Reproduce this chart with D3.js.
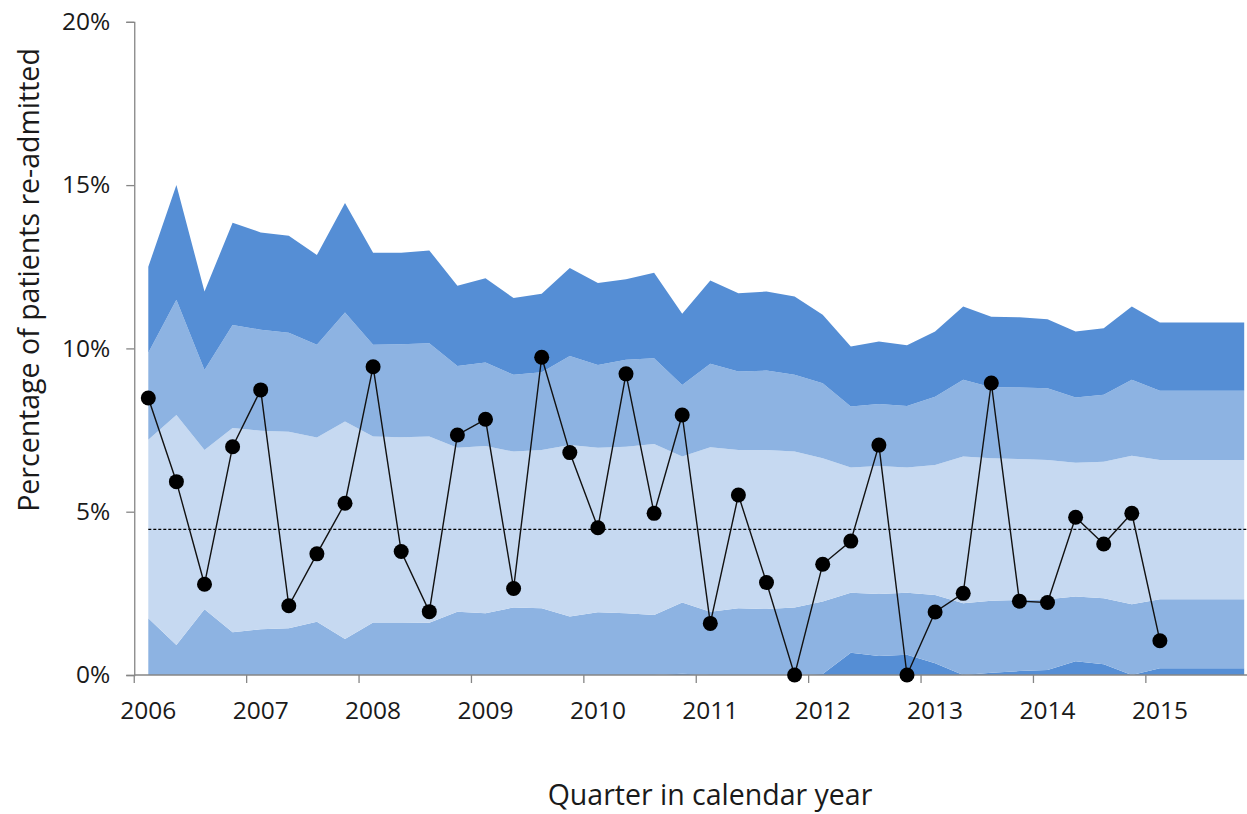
<!DOCTYPE html>
<html>
<head>
<meta charset="utf-8">
<script src="https://cdn.jsdelivr.net/npm/d3@7"></script>
<style>
  html, body { margin: 0; padding: 0; background: #fff; }
  svg { display: block; font-family: "Open Sans", sans-serif; }
</style>
</head>
<body>
<svg id="chart" width="1247" height="814"></svg>
<script>
// ---- data (percent) ----
const years = [2006,2007,2008,2009,2010,2011,2012,2013,2014,2015];
const categories = [];
years.forEach(y => [1,2,3,4].forEach(q => categories.push(y + " Q" + q)));
const yearLabels = years.map(String);

const readmitted = [8.48,5.92,2.78,6.99,8.73,2.12,3.71,5.26,9.44,3.78,1.94,7.35,7.83,2.65,9.73,6.81,4.51,9.22,4.95,7.96,1.58,5.51,2.83,0,3.39,4.10,7.04,0,1.93,2.50,8.94,2.26,2.22,4.83,4.01,4.95,1.05];
const meanRate = 4.46;

// band boundaries (from bottom up)
const limitLow3 = [0,0,0,0,0,0,0,0,0,0,0,0,0,0,0,0,0,0,0,0.04,0,0,0,0,0.03,0.68,0.58,0.62,0.36,0,0.07,0.12,0.15,0.42,0.33,0,0.21,0.21,0.21,0.21];
const limitLow2 = [1.74,0.92,2.01,1.31,1.40,1.43,1.63,1.10,1.61,1.61,1.60,1.94,1.89,2.07,2.04,1.79,1.92,1.89,1.84,2.22,1.94,2.04,2.02,2.07,2.25,2.52,2.48,2.52,2.45,2.20,2.27,2.30,2.32,2.40,2.35,2.17,2.32,2.32,2.32,2.32];
const limitUp2 = [7.20,7.96,6.89,7.56,7.48,7.45,7.27,7.76,7.30,7.28,7.30,6.96,7.01,6.84,6.89,7.04,6.96,6.99,7.07,6.69,6.97,6.89,6.89,6.84,6.64,6.35,6.40,6.35,6.43,6.69,6.64,6.61,6.58,6.50,6.53,6.71,6.58,6.58,6.58,6.58];
const limitUp3 = [9.87,11.49,9.34,10.72,10.57,10.48,10.11,11.10,10.11,10.13,10.16,9.46,9.57,9.19,9.27,9.77,9.49,9.65,9.70,8.88,9.53,9.29,9.32,9.19,8.93,8.22,8.30,8.24,8.52,9.04,8.81,8.80,8.78,8.50,8.58,9.04,8.70,8.70,8.70,8.70];
const limitUp4 = [12.50,15.00,11.74,13.85,13.55,13.45,12.86,14.45,12.93,12.93,13.00,11.92,12.15,11.54,11.67,12.46,12.00,12.12,12.32,11.06,12.08,11.69,11.74,11.59,11.03,10.06,10.21,10.10,10.52,11.28,10.97,10.95,10.89,10.52,10.62,11.28,10.79,10.79,10.79,10.79];

const yTicks = [0,5,10,15,20];
const darkBlue = "#558ED5", midBlue = "#8DB3E2", lightBlue = "#C6D9F1";

// ---- scales ----
const svg = d3.select("#chart");
const step = 28.1;
const x0 = 148.3;
const x = d3.scalePoint().domain(categories).range([x0, x0 + step * (categories.length - 1)]);
const y = d3.scaleLinear().domain([0, 20]).range([675, 21.8]);
const axisLeftX = x0 - step / 2;

// ---- bands ----
const bounds = [categories.map(() => 0), limitLow3, limitLow2, limitUp2, limitUp3, limitUp4];
const bandColors = [darkBlue, midBlue, lightBlue, midBlue, darkBlue];
const bandG = svg.append("g");
bandColors.forEach((col, k) => {
  const area = d3.area()
    .x((d, i) => x(categories[i]))
    .y0((d, i) => y(bounds[k][i]))
    .y1((d, i) => y(bounds[k + 1][i]))
    .curve(d3.curveLinear);
  bandG.append("path").datum(categories).attr("d", area).attr("fill", col);
});

// ---- mean line ----
svg.append("line")
  .attr("x1", x(categories[0])).attr("x2", 1247)
  .attr("y1", y(meanRate)).attr("y2", y(meanRate))
  .attr("stroke", "#000").attr("stroke-width", 1.3).attr("stroke-dasharray", "3,2");

// ---- axes ----
const yAxis = d3.axisLeft(y).tickValues(yTicks).tickFormat(d => d + "%").tickSize(8).tickPadding(16);
const gy = svg.append("g").attr("transform", `translate(${axisLeftX},0)`).call(yAxis);
gy.select(".domain").attr("stroke", "#868686").attr("stroke-width", 1.3);
gy.selectAll(".tick line").attr("stroke", "#868686").attr("stroke-width", 1.3);
gy.selectAll(".tick text").attr("font-size", 24.5).attr("fill", "#1a1a1a").attr("font-family", "Open Sans");

// x axis: ticks between categories every 4, labels at year starts
const xAxisG = svg.append("g");
xAxisG.append("line")
  .attr("x1", axisLeftX).attr("x2", 1247)
  .attr("y1", y(0)).attr("y2", y(0))
  .attr("stroke", "#868686").attr("stroke-width", 1.3);
const yearStarts = categories.filter((c, i) => i % 4 === 0);
xAxisG.selectAll("line.tk").data(yearStarts).join("line").attr("class", "tk")
  .attr("x1", d => x(d) - step / 2).attr("x2", d => x(d) - step / 2)
  .attr("y1", y(0)).attr("y2", y(0) + 8)
  .attr("stroke", "#868686").attr("stroke-width", 1.3);
xAxisG.selectAll("text").data(yearStarts).join("text")
  .attr("x", d => x(d)).attr("y", 719)
  .attr("text-anchor", "middle").attr("font-size", 24.5).attr("fill", "#1a1a1a")
  .text((d, i) => yearLabels[i]);

// ---- series line & markers ----
const line = d3.line().x((d, i) => x(categories[i])).y(d => y(d));
svg.append("path").datum(readmitted).attr("d", line)
  .attr("fill", "none").attr("stroke", "#111").attr("stroke-width", 1.4);
svg.append("g").selectAll("circle").data(readmitted).join("circle")
  .attr("cx", (d, i) => x(categories[i])).attr("cy", d => y(d))
  .attr("r", 7.5).attr("fill", "#000");

// ---- titles ----
svg.append("text")
  .attr("transform", "translate(39,280) rotate(-90)")
  .attr("text-anchor", "middle").attr("font-size", 28.5).attr("fill", "#1a1a1a")
  .text("Percentage of patients re-admitted");
svg.append("text")
  .attr("x", 710).attr("y", 805)
  .attr("text-anchor", "middle").attr("font-size", 28.5).attr("fill", "#1a1a1a")
  .text("Quarter in calendar year");
</script>
</body>
</html>
